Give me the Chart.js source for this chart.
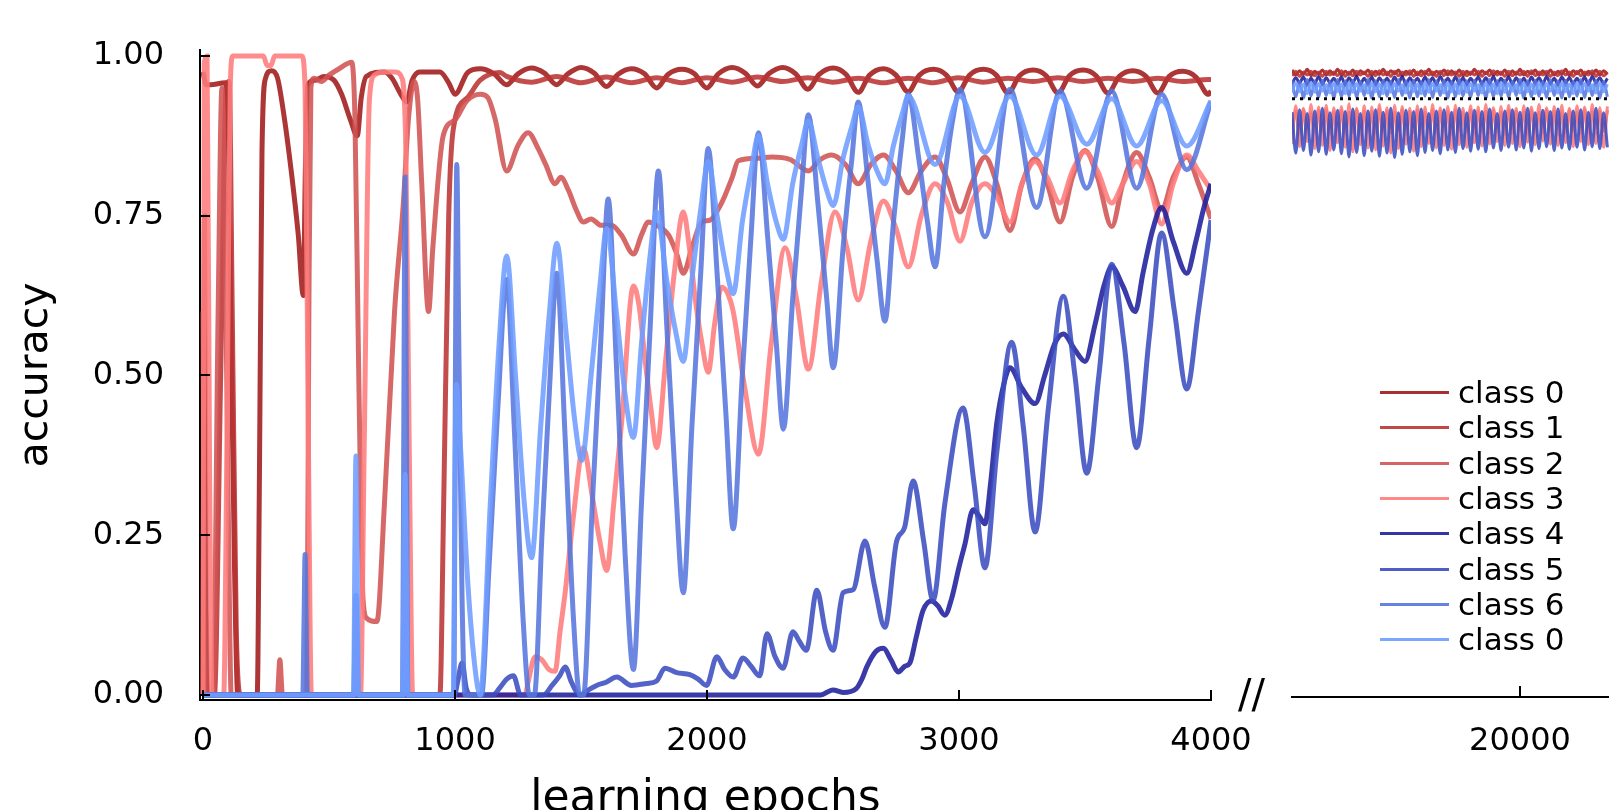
<!DOCTYPE html>
<html>
<head>
<meta charset="utf-8">
<script src="https://cdn.jsdelivr.net/npm/chart.js@4.4.0/dist/chart.umd.min.js"></script>
<style>
html, body { margin: 0; padding: 0; background: #fff; overflow: hidden; width: 1609px; height: 810px; }
#left { position: absolute; left: 0; top: 0; }
#right { position: absolute; left: 1240px; top: 0; }
#brk { position: absolute; left: 1238px; top: 674px; font: 40px 'DejaVu Sans'; line-height: 40px; color: #000; }
#legend { position: absolute; left: 1380px; top: 375px; }
#legend .row { height: 35.3px; display: flex; align-items: center; }
#legend .sw { width: 69px; height: 3px; margin-right: 9px; }
#legend .lbl { font: 31px 'DejaVu Sans'; line-height: 35px; color: #000; }
</style>
</head>
<body>
<canvas id="left" width="1300" height="850" style="width:1300px;height:850px"></canvas>
<canvas id="right" width="369" height="850" style="width:369px;height:850px"></canvas>
<div id="brk">//</div>
<div id="legend"></div>
<script>
// ticks and legend
const xTicksLeft = [0, 1000, 2000, 3000, 4000];
const xTicksRight = [20000];
const yTicks = [0, 0.25, 0.5, 0.75, 1];
const classNames = ['class 0', 'class 1', 'class 2', 'class 3', 'class 4', 'class 5', 'class 6', 'class 0'];
const classColors = ['#a01a1a', '#bb3434', '#d25353', '#ff7c7c', '#1f1f9c', '#3c4dc0', '#5676dd', '#6e9dff'];

// left panel, [epoch, accuracy]
const acc0 = [[0,0.975],[12,0.955],[30,0.955],[88,0.958],[98,0.93],[110,0.6],[125,0.2],[138,0],[215,0],[224,0.35],[234,0.85],[248,0.965],[272,0.977],[296,0.965],[320,0.91],[350,0.82],[378,0.72],[398,0.625],[406,0.82],[415,0.955],[445,0.962],[480,0.968],[520,0.962],[550,0.94],[585,0.9],[612,0.875],[628,0.935],[648,0.968],[720,0.975],[750,0.965],[785,0.94],[808,0.928],[830,0.962],[860,0.975],[940,0.975],[975,0.958],[1000,0.94],
  [1050,0.974],[1100,0.98],[1155,0.972],[1205,0.955],[1250,0.972],[1303,0.981],[1355,0.973],[1403,0.955],[1448,0.972],[1500,0.982],[1553,0.973],[1601,0.952],[1646,0.971],[1700,0.98],[1752,0.972],[1800,0.95],[1845,0.971],[1900,0.979],[1950,0.972],[1999,0.95],
  [2045,0.972],[2100,0.982],[2152,0.973],[2200,0.953],[2245,0.972],[2300,0.982],[2352,0.972],[2400,0.948],[2445,0.971],[2500,0.981],[2552,0.971],[2600,0.943],[2645,0.97],[2700,0.98],[2750,0.97],[2798,0.944],[2843,0.97],[2898,0.979],[2950,0.97],[2997,0.944],
  [3042,0.97],[3096,0.979],[3148,0.97],[3195,0.942],[3240,0.969],[3294,0.978],[3346,0.969],[3393,0.942],[3438,0.969],[3492,0.978],[3544,0.969],[3591,0.942],[3636,0.968],[3690,0.977],[3742,0.968],[3789,0.942],[3834,0.968],[3888,0.976],[3940,0.967],[3990,0.94],[4000,0.945]];
const acc1 = [[0,0],[6,0.75],[12,0.2],[20,0],[45,0],[70,0.5],[92,0.955],[104,0.96],[116,0.6],[132,0.1],[150,0],[940,0],[955,0.3],[975,0.75],[993,0.885],[1050,0.935],[1100,0.962],[1179,0.974],
  [1205,0.968],[1303,0.959],[1403,0.968],[1500,0.958],[1601,0.967],[1700,0.958],[1800,0.966],[1900,0.958],[1999,0.966],[2100,0.959],[2200,0.967],[2300,0.96],[2400,0.966],[2500,0.959],[2600,0.965],[2700,0.958],[2798,0.965],[2898,0.958],[2997,0.966],
  [3096,0.959],[3195,0.965],[3294,0.96],[3393,0.966],[3492,0.96],[3591,0.965],[3690,0.96],[3789,0.965],[3888,0.96],[3990,0.963],[4000,0.963]];
const acc2 = [[0,0.6],[6,0],[40,0],[60,0.6],[75,0.95],[88,0.7],[100,0.3],[112,0],[295,0],[305,0.055],[315,0],[412,0],[420,0.6],[428,0.95],[440,0.965],[470,0.96],[500,0.97],[540,0.98],[590,0.99],[603,0.9],[618,0.5],[635,0.15],[650,0.12],[690,0.115],[720,0.3],[760,0.6],[795,0.77],[815,0.9],[838,0.96],[852,0.93],[868,0.8],[895,0.6],[912,0.7],[953,0.875],[1000,0.9],
  [1047,0.93],[1100,0.94],[1130,0.935],[1160,0.9],[1205,0.82],[1250,0.86],[1290,0.88],[1330,0.855],[1360,0.83],[1397,0.8],[1420,0.81],[1450,0.79],[1480,0.76],[1509,0.74],[1540,0.745],[1580,0.735],[1620,0.735],[1660,0.72],[1708,0.69],[1740,0.72],[1767,0.74],[1800,0.735],[1847,0.72],[1880,0.69],[1906,0.66],[1940,0.7],[1979,0.74],
  [2012,0.743],[2058,0.77],[2100,0.81],[2124,0.836],[2204,0.84],[2257,0.842],[2330,0.838],[2402,0.82],[2450,0.838],[2495,0.845],[2550,0.83],[2600,0.8],[2650,0.83],[2700,0.845],[2750,0.82],[2799,0.786],[2850,0.82],[2905,0.842],[2950,0.81],
  [3004,0.756],[3050,0.8],[3103,0.842],[3150,0.8],[3202,0.727],[3250,0.8],[3302,0.839],[3350,0.8],[3401,0.74],[3450,0.81],[3500,0.852],[3550,0.81],[3606,0.733],[3650,0.8],[3705,0.849],[3755,0.81],[3804,0.76],[3850,0.81],[3904,0.842],[3950,0.8],[4000,0.745]];
const acc3 = [[0,0],[5,0.99],[16,1],[26,0.35],[36,0],[82,0],[95,0.4],[108,0.95],[118,1],[240,1],[254,0.985],[270,0.985],[284,1],[392,1],[405,0.95],[418,0.4],[430,0],[625,0],[640,0.4],[660,0.93],[680,0.97],[720,0.975],[760,0.975],[790,0.965],[805,0.85],[818,0.4],[832,0],
  [1278,0],[1290,0.02],[1318,0.06],[1345,0.055],[1372,0.04],[1397,0.037],[1417,0.1],[1437,0.16],[1470,0.28],[1509,0.387],[1545,0.31],[1575,0.24],[1602,0.195],[1630,0.3],[1661,0.426],[1708,0.64],[1730,0.61],[1754,0.525],[1780,0.44],[1800,0.387],[1835,0.52],[1870,0.66],[1906,0.756],[1930,0.7],[1952,0.624],[1980,0.55],
  [2005,0.505],[2030,0.58],[2058,0.638],[2080,0.63],[2104,0.6],[2150,0.48],[2204,0.377],[2255,0.55],[2310,0.7],[2355,0.62],[2402,0.51],[2455,0.65],[2508,0.756],[2555,0.7],[2600,0.618],[2650,0.71],[2700,0.773],[2750,0.73],[2799,0.67],[2850,0.75],[2905,0.8],[2955,0.77],
  [3004,0.71],[3050,0.77],[3103,0.8],[3150,0.78],[3202,0.74],[3250,0.8],[3302,0.835],[3350,0.81],[3401,0.77],[3450,0.82],[3500,0.85],[3550,0.82],[3606,0.77],[3650,0.8],[3705,0.835],[3755,0.8],[3804,0.737],[3850,0.8],[3904,0.845],[3950,0.82],[4000,0.79]];
const acc4 = [[0,0],[2450,0],[2500,0.008],[2540,0.004],[2592,0.01],[2615,0.025],[2634,0.044],[2670,0.068],[2700,0.073],[2730,0.055],[2759,0.036],[2785,0.045],[2805,0.05],[2830,0.09],[2857,0.132],[2890,0.147],[2915,0.14],[2944,0.125],[2970,0.15],
  [3000,0.2],[3024,0.237],[3056,0.29],[3080,0.28],[3103,0.268],[3125,0.33],[3150,0.426],[3180,0.49],[3202,0.512],[3250,0.48],[3302,0.456],[3340,0.5],[3380,0.55],[3414,0.565],[3460,0.54],[3500,0.522],[3540,0.58],[3575,0.64],[3606,0.67],[3650,0.64],[3699,0.6],[3730,0.66],[3770,0.73],[3804,0.763],[3850,0.71],[3904,0.66],[3940,0.71],[3970,0.76],[4000,0.8]];
const acc5 = [[0,0],[998,0],[1010,0.02],[1028,0.05],[1045,0.01],[1065,0],[1150,0],[1179,0.012],[1205,0.025],[1232,0.03],[1260,0],[1350,0],[1385,0.015],[1415,0.03],[1437,0.044],[1462,0.02],[1496,0],[1530,0.008],[1562,0.015],[1600,0.02],[1642,0.028],[1700,0.015],[1760,0.018],[1800,0.022],[1833,0.042],[1880,0.035],[1932,0.032],[1965,0.025],[1998,0.015],
  [2039,0.06],[2070,0.04],[2104,0.028],[2143,0.058],[2175,0.045],[2209,0.03],[2238,0.096],[2270,0.06],[2302,0.042],[2341,0.099],[2365,0.085],[2394,0.07],[2436,0.164],[2470,0.1],[2500,0.07],[2540,0.16],[2580,0.165],[2627,0.241],[2665,0.17],[2706,0.106],[2752,0.24],[2784,0.262],[2818,0.335],[2860,0.24],[2897,0.148],[2944,0.3],
  [3016,0.449],[3060,0.33],[3103,0.199],[3150,0.38],[3209,0.552],[3255,0.42],[3302,0.255],[3355,0.45],[3414,0.624],[3460,0.5],[3507,0.347],[3555,0.5],[3606,0.674],[3655,0.55],[3705,0.387],[3755,0.56],[3804,0.723],[3855,0.6],[3904,0.479],[3950,0.6],[4000,0.743]];
const acc6 = [[0,0],[396,0],[401,0.12],[405,0.22],[409,0.12],[414,0],[598,0],[603,0.1],[607,0.156],[611,0.1],[616,0],[792,0],[797,0.45],[802,0.81],[807,0.45],[813,0],[996,0],[1001,0.45],[1007,0.83],[1015,0.55],[1028,0.15],[1040,0],
  [1105,0],[1135,0.2],[1170,0.45],[1205,0.65],[1235,0.42],[1270,0.12],[1295,0],[1315,0],[1345,0.25],[1375,0.48],[1404,0.66],[1435,0.42],[1470,0.12],[1495,0],[1510,0],[1545,0.3],[1578,0.55],[1608,0.776],[1640,0.52],[1675,0.22],[1708,0.04],[1740,0.3],[1775,0.58],[1807,0.82],[1840,0.58],[1875,0.33],[1906,0.16],[1940,0.42],[1975,0.66],
  [2005,0.855],[2040,0.66],[2075,0.44],[2104,0.26],[2140,0.5],[2175,0.72],[2204,0.88],[2240,0.72],[2275,0.55],[2303,0.416],[2340,0.62],[2375,0.79],[2402,0.908],[2440,0.77],[2475,0.62],[2501,0.512],[2540,0.7],[2575,0.84],[2600,0.928],[2640,0.8],[2675,0.68],[2706,0.585],[2740,0.74],[2775,0.87],[2799,0.94],[2840,0.84],[2875,0.74],[2905,0.67],[2940,0.8],[2975,0.9],
  [3004,0.948],[3103,0.717],[3202,0.948],[3308,0.763],[3401,0.945],[3507,0.793],[3606,0.945],[3705,0.793],[3804,0.94],[3904,0.822],[4000,0.928]];
const acc7 = [[0,0],[598,0],[602,0.2],[607,0.374],[612,0.2],[617,0],[793,0],[797,0.2],[802,0.345],[807,0.2],[812,0],[994,0],[999,0.3],[1005,0.486],[1020,0.4],[1050,0.18],[1080,0.04],[1100,0],
  [1140,0.3],[1175,0.55],[1205,0.687],[1240,0.5],[1275,0.3],[1304,0.215],[1340,0.42],[1375,0.6],[1404,0.707],[1440,0.57],[1475,0.43],[1503,0.367],[1540,0.5],[1575,0.64],[1602,0.73],[1640,0.6],[1675,0.47],[1708,0.403],[1740,0.55],[1772,0.68],[1800,0.756],[1840,0.65],[1875,0.57],[1906,0.522],[1940,0.65],[1975,0.76],
  [2005,0.835],[2040,0.75],[2075,0.67],[2104,0.628],[2140,0.74],[2175,0.82],[2204,0.875],[2240,0.8],[2275,0.74],[2303,0.713],[2340,0.8],[2375,0.86],[2402,0.898],[2440,0.84],[2475,0.79],[2501,0.766],[2540,0.84],[2575,0.89],[2600,0.92],[2640,0.86],[2675,0.82],[2706,0.8],[2740,0.86],[2775,0.91],[2799,0.937],[2905,0.83],
  [3004,0.937],[3103,0.849],[3202,0.937],[3308,0.845],[3401,0.937],[3507,0.862],[3606,0.933],[3705,0.859],[3804,0.93],[3904,0.859],[4000,0.93]];

// right panel (late epochs)
const rEpochs = [14000,14100,14200,14300,14400,14500,14600,14700,14800,14900,15000,15100,
  15200,15300,15400,15500,15600,15700,15800,15900,16000,16100,16200,16300,
  16400,16500,16600,16700,16800,16900,17000,17100,17200,17300,17400,17500,
  17600,17700,17800,17900,18000,18100,18200,18300,18400,18500,18600,18700,
  18800,18900,19000,19100,19200,19300,19400,19500,19600,19700,19800,19900,
  20000,20100,20200,20300,20400,20500,20600,20700,20800,20900,21000,21100,
  21200,21300,21400,21500,21600,21700,21800,21900,22000,22100,22200,22300];
const r0 = [0.978,0.970,0.977,0.971,0.979,0.969,0.976,0.972,0.978,0.970,0.977,0.971,
  0.979,0.970,0.976,0.971,0.978,0.969,0.977,0.972,0.978,0.970,0.976,0.971,
  0.979,0.970,0.977,0.972,0.978,0.969,0.976,0.971,0.978,0.970,0.977,0.971,
  0.979,0.970,0.976,0.972,0.978,0.970,0.977,0.971,0.978,0.969,0.976,0.971,
  0.979,0.970,0.977,0.972,0.978,0.970,0.976,0.971,0.978,0.969,0.977,0.971,
  0.979,0.970,0.976,0.972,0.978,0.970,0.977,0.971,0.978,0.970,0.976,0.971,
  0.979,0.969,0.977,0.972,0.978,0.970,0.976,0.971,0.978,0.970,0.977,0.971];
const r1 = [0.969,0.976,0.968,0.975,0.970,0.976,0.969,0.975,0.968,0.976,0.970,0.975,
  0.969,0.977,0.968,0.975,0.969,0.976,0.970,0.975,0.968,0.976,0.969,0.977,
  0.970,0.975,0.968,0.976,0.969,0.975,0.970,0.977,0.968,0.975,0.969,0.976,
  0.970,0.975,0.968,0.976,0.969,0.977,0.970,0.975,0.968,0.976,0.969,0.975,
  0.970,0.976,0.968,0.975,0.969,0.977,0.970,0.975,0.968,0.976,0.969,0.975,
  0.970,0.976,0.968,0.977,0.969,0.975,0.970,0.976,0.968,0.975,0.969,0.977,
  0.970,0.975,0.968,0.976,0.969,0.975,0.970,0.977,0.968,0.976,0.969,0.975];
const r2 = [0.882,0.914,0.878,0.916,0.884,0.912,0.879,0.915,0.881,0.917,0.877,0.913,
  0.883,0.915,0.879,0.912,0.880,0.916,0.876,0.914,0.882,0.913,0.878,0.917,
  0.881,0.914,0.879,0.912,0.883,0.916,0.877,0.913,0.880,0.915,0.878,0.912,
  0.882,0.916,0.879,0.914,0.881,0.913,0.877,0.915,0.883,0.912,0.880,0.916,
  0.878,0.914,0.882,0.913,0.879,0.915,0.881,0.912,0.877,0.916,0.880,0.914,
  0.883,0.913,0.878,0.915,0.881,0.912,0.879,0.916,0.882,0.914,0.877,0.913,
  0.880,0.915,0.883,0.912,0.879,0.916,0.881,0.914,0.878,0.913,0.882,0.915];
const r3 = [0.862,0.922,0.858,0.918,0.866,0.924,0.855,0.920,0.860,0.923,0.852,0.919,
  0.864,0.921,0.857,0.925,0.850,0.918,0.861,0.922,0.856,0.920,0.853,0.924,
  0.859,0.919,0.848,0.923,0.855,0.921,0.862,0.918,0.851,0.922,0.858,0.920,
  0.863,0.924,0.856,0.919,0.860,0.921,0.854,0.923,0.861,0.918,0.857,0.922,
  0.864,0.920,0.859,0.924,0.862,0.919,0.866,0.921,0.860,0.923,0.863,0.918,
  0.858,0.922,0.865,0.920,0.861,0.924,0.867,0.919,0.862,0.921,0.860,0.923,
  0.864,0.918,0.858,0.922,0.866,0.920,0.861,0.924,0.863,0.919,0.857,0.921];
const r4 = [0.956,0.966,0.958,0.967,0.955,0.965,0.957,0.968,0.956,0.966,0.958,0.965,
  0.957,0.967,0.955,0.966,0.958,0.968,0.956,0.965,0.957,0.967,0.955,0.966,
  0.958,0.965,0.956,0.967,0.957,0.968,0.955,0.966,0.958,0.965,0.956,0.967,
  0.957,0.966,0.955,0.968,0.958,0.965,0.956,0.967,0.957,0.966,0.955,0.965,
  0.958,0.967,0.956,0.966,0.957,0.968,0.955,0.965,0.958,0.967,0.956,0.966,
  0.957,0.965,0.955,0.967,0.958,0.966,0.956,0.968,0.957,0.965,0.955,0.967,
  0.958,0.966,0.956,0.965,0.957,0.967,0.955,0.968,0.958,0.966,0.956,0.965];
const r5 = [0.912,0.848,0.916,0.852,0.910,0.845,0.914,0.850,0.918,0.846,0.911,0.853,
  0.915,0.847,0.913,0.842,0.917,0.849,0.910,0.844,0.914,0.851,0.916,0.843,
  0.912,0.848,0.918,0.841,0.911,0.846,0.915,0.850,0.913,0.844,0.917,0.849,
  0.910,0.852,0.914,0.847,0.916,0.853,0.912,0.849,0.918,0.855,0.911,0.851,
  0.915,0.854,0.913,0.850,0.917,0.856,0.910,0.852,0.914,0.857,0.916,0.853,
  0.912,0.856,0.918,0.851,0.911,0.855,0.915,0.858,0.913,0.852,0.917,0.856,
  0.910,0.854,0.914,0.857,0.916,0.853,0.912,0.858,0.918,0.855,0.911,0.857];
const r6 = [0.962,0.936,0.960,0.934,0.963,0.937,0.961,0.935,0.962,0.938,0.960,0.934,
  0.963,0.936,0.961,0.937,0.962,0.935,0.960,0.938,0.963,0.934,0.961,0.936,
  0.962,0.937,0.960,0.935,0.963,0.938,0.961,0.934,0.962,0.936,0.960,0.937,
  0.963,0.935,0.961,0.938,0.962,0.934,0.960,0.936,0.963,0.937,0.961,0.935,
  0.962,0.938,0.960,0.934,0.963,0.936,0.961,0.937,0.962,0.935,0.960,0.938,
  0.963,0.934,0.961,0.936,0.962,0.937,0.960,0.935,0.963,0.938,0.961,0.934,
  0.962,0.936,0.960,0.937,0.963,0.935,0.961,0.938,0.962,0.934,0.960,0.936];
const r7 = [0.942,0.958,0.944,0.956,0.941,0.959,0.943,0.957,0.945,0.955,0.942,0.958,
  0.944,0.956,0.941,0.959,0.943,0.957,0.945,0.955,0.942,0.958,0.944,0.956,
  0.941,0.959,0.943,0.957,0.945,0.955,0.942,0.958,0.944,0.956,0.941,0.959,
  0.943,0.957,0.945,0.955,0.942,0.958,0.944,0.956,0.941,0.959,0.943,0.957,
  0.945,0.955,0.942,0.958,0.944,0.956,0.941,0.959,0.943,0.957,0.945,0.955,
  0.942,0.958,0.944,0.956,0.941,0.959,0.943,0.957,0.945,0.955,0.942,0.958,
  0.944,0.956,0.941,0.959,0.943,0.957,0.945,0.955,0.942,0.958,0.944,0.956];
const refEpochs = [14000, 22342];
const refAcc = [0.933, 0.933];

const leftSeries = [acc0, acc1, acc2, acc3, acc4, acc5, acc6, acc7];
const rightSeries = [r0, r1, r2, r3, r4, r5, r6, r7];

const FONT = 'DejaVu Sans';

function hexA(hex, a) {
  const n = parseInt(hex.slice(1), 16);
  return `rgba(${n >> 16},${(n >> 8) & 255},${n & 255},${a})`;
}

// ticks pointing into the plot
const innerTicks = {
  id: 'innerTicks',
  afterDraw(chart, args, opts) {
    const ctx = chart.ctx;
    const xs = chart.scales.x, ys = chart.scales.y;
    ctx.save();
    ctx.strokeStyle = '#000';
    ctx.lineWidth = 2;
    xs.ticks.forEach(t => {
      const px = Math.round(xs.getPixelForValue(t.value));
      ctx.beginPath(); ctx.moveTo(px, xs.top); ctx.lineTo(px, xs.top - opts.len); ctx.stroke();
    });
    if (opts.yAxis) {
      ys.ticks.forEach(t => {
        const py = Math.round(ys.getPixelForValue(t.value));
        ctx.beginPath(); ctx.moveTo(ys.right, py); ctx.lineTo(ys.right + opts.len, py); ctx.stroke();
      });
    }
    ctx.restore();
  }
};

function lineSet(data, i, w) {
  return {
    label: classNames[i],
    data: data,
    borderColor: hexA(classColors[i], 0.88),
    borderWidth: w,
    pointRadius: 0,
    cubicInterpolationMode: 'monotone',
    order: 7 - i
  };
}

new Chart(document.getElementById('left'), {
  type: 'line',
  data: {
    datasets: leftSeries.map((s, i) => lineSet(s.map(p => ({x: p[0], y: p[1]})), i, 5))
  },
  options: {
    responsive: false, animation: false, events: [], devicePixelRatio: 1,
    layout: { padding: { top: 50, right: 89, left: 0, bottom: 0 } },
    plugins: { legend: { display: false }, tooltip: { enabled: false }, innerTicks: { len: 10, yAxis: true } },
    scales: {
      x: {
        type: 'linear', min: -12, max: 4000,
        afterFit: s => { s.height = 150; s.paddingLeft = 0; s.paddingRight = 0; },
        afterBuildTicks: s => { s.ticks = xTicksLeft.map(v => ({ value: v })); },
        grid: { display: true, drawOnChartArea: false, drawTicks: false },
        border: { display: true, color: '#000', width: 2 },
        ticks: { autoSkip: false, maxRotation: 0, padding: 22, color: '#000', font: { family: FONT, size: 32 }, callback: v => String(v) },
        title: { display: true, text: 'learning epochs', color: '#000', font: { family: FONT, size: 44 }, padding: { top: 0, bottom: 24 } }
      },
      y: {
        type: 'linear', min: -0.0078, max: 1.0093,
        afterFit: s => { s.width = 200; s.paddingTop = 0; s.paddingBottom = 0; },
        afterBuildTicks: s => { s.ticks = yTicks.map(v => ({ value: v })); },
        grid: { display: true, drawOnChartArea: false, drawTicks: false },
        border: { display: true, color: '#000', width: 2 },
        ticks: { autoSkip: false, padding: 36, color: '#000', font: { family: FONT, size: 32 }, callback: v => v.toFixed(2) },
        title: { display: true, text: 'accuracy', color: '#000', font: { family: FONT, size: 41 }, padding: { top: 12, bottom: 0 } }
      }
    }
  },
  plugins: [innerTicks]
});

const rightSets = rightSeries.map((s, i) => lineSet(s.map((v, k) => ({x: rEpochs[k], y: v})), i, 3));
rightSets.push({
  label: 'mean',
  data: refEpochs.map((e, k) => ({x: e, y: refAcc[k]})),
  borderColor: '#000', borderWidth: 3, borderDash: [3, 5], pointRadius: 0, order: -1
});

new Chart(document.getElementById('right'), {
  type: 'line',
  data: { datasets: rightSets },
  options: {
    responsive: false, animation: false, events: [], devicePixelRatio: 1,
    layout: { padding: { top: 50, right: 0, left: 52, bottom: 0 } },
    plugins: { legend: { display: false }, tooltip: { enabled: false }, innerTicks: { len: 11, yAxis: false } },
    scales: {
      x: {
        type: 'linear', min: 14000, max: 22342,
        afterFit: s => { s.height = 153; s.paddingLeft = 0; s.paddingRight = 0; },
        afterBuildTicks: s => { s.ticks = xTicksRight.map(v => ({ value: v })); },
        grid: { display: true, drawOnChartArea: false, drawTicks: false },
        border: { display: true, color: '#000', width: 2 },
        ticks: { autoSkip: false, maxRotation: 0, padding: 25, color: '#000', font: { family: FONT, size: 32 }, callback: v => String(v) }
      },
      y: { type: 'linear', display: false, min: -0.0031, max: 1.0093 }
    }
  },
  plugins: [innerTicks]
});

// legend
const legend = document.getElementById('legend');
classNames.forEach((n, i) => {
  const row = document.createElement('div');
  row.className = 'row';
  row.innerHTML = `<span class="sw" style="background:${hexA(classColors[i], 0.9)}"></span><span class="lbl">${n}</span>`;
  legend.appendChild(row);
});
</script>
</body>
</html>
